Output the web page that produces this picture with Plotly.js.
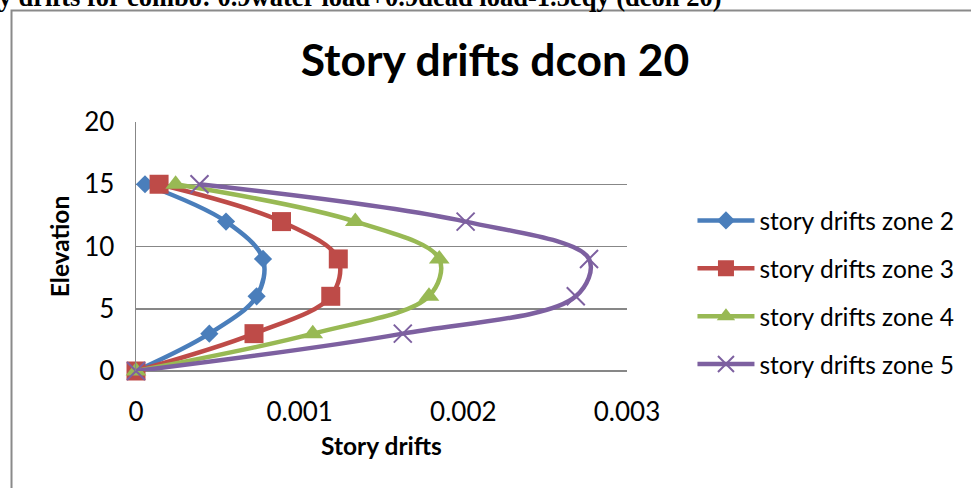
<!DOCTYPE html>
<html>
<head>
<meta charset="utf-8">
<script src="https://cdn.plot.ly/plotly-3.0.1.min.js"></script>
<style>
html,body{margin:0;padding:0;background:#fff;}
#chart{width:971px;height:488px;}
</style>
</head>
<body>
<div id="chart"></div>
<script>
// Elevation levels (shared)
const elevation = [0, 3, 6, 9, 12, 15];
// Story drift values per zone
const zone2 = [0, 0.000448, 0.000737, 0.000776, 0.00055, 0.000055];
const zone3 = [0, 0.000721, 0.00119, 0.001236, 0.000889, 0.000141];
const zone4 = [0, 0.00108, 0.00179, 0.001853, 0.00134, 0.000242];
const zone5 = [0, 0.00163, 0.002687, 0.002768, 0.002014, 0.000388];
const seriesNames = ["story drifts zone 2", "story drifts zone 3", "story drifts zone 4", "story drifts zone 5"];
const xTickVals = [0, 0.001, 0.002, 0.003];
const xTickText = ["0", "0.001", "0.002", "0.003"];
const yTickVals = [0, 5, 10, 15, 20];

const colors = ["#4A7EBB", "#BE4B48", "#98B954", "#7D60A0"];
const symbols = ["diamond", "square", "triangle-up", "x-thin-open"];
const sizes = [14, 19, 18, 18];
const seriesData = [zone2, zone3, zone4, zone5];

const traces = seriesData.map((vals, i) => ({
  type: "scatter",
  mode: "lines+markers",
  x: vals,
  y: elevation,
  name: seriesNames[i],
  legendgroup: "g" + i,
  line: {color: colors[i], width: 4.5, shape: "spline", smoothing: 1},
  marker: {
    symbol: symbols[i],
    size: sizes[i],
    color: colors[i],
    line: {color: colors[i], width: i === 3 ? 2 : 0}
  },
  cliponaxis: false
}));

const L = 136, R = 631, T = 122, B = 371;
const W = R - L, H = B - T;
const px = v => (v - L) / W;
const py = v => (B - v) / H;

const layout = {
  width: 971,
  height: 488,
  margin: {l: L, r: 971 - R, t: T, b: 488 - B},
  paper_bgcolor: "#ffffff",
  plot_bgcolor: "#ffffff",
  font: {family: "Lato, 'Open Sans', sans-serif", color: "#000", size: 24},
  title: {
    text: "<b>Story drifts dcon 20</b>",
    font: {family: "Lato, sans-serif", size: 44.4, color: "#000"},
    xref: "container", yref: "container",
    x: 495 / 971, xanchor: "center",
    y: 1 - 60 / 488, yanchor: "middle"
  },
  xaxis: {
    range: [0, 0.003],
    tickvals: xTickVals,
    ticktext: xTickText,
    showgrid: false,
    zeroline: false,
    showline: false,
    ticks: "outside",
    ticklen: 18,
    tickcolor: "rgba(0,0,0,0)",
    tickfont: {size: 26},
    title: {text: "<b>Story drifts</b>", font: {size: 24.5}, standoff: 11},
    automargin: false
  },
  yaxis: {
    range: [0, 20],
    tickvals: yTickVals,
    showgrid: true,
    gridcolor: "#878787",
    gridwidth: 1.5,
    zeroline: true,
    zerolinecolor: "#878787",
    zerolinewidth: 1.5,
    showline: true,
    linecolor: "#878787",
    linewidth: 1.5,
    ticks: "outside",
    ticklen: 15,
    tickcolor: "rgba(0,0,0,0)",
    tickfont: {size: 26},
    title: {text: "<b>Elevation</b>", font: {size: 24.5}, standoff: 7},
    automargin: false
  },
  legend: {
    x: px(697), xanchor: "left",
    y: py(198), yanchor: "top",
    font: {size: 24.5, color: "#000"},
    tracegroupgap: 13,
    itemwidth: 57,
    bgcolor: "rgba(0,0,0,0)"
  },
  shapes: [{
    type: "rect", xref: "paper", yref: "paper",
    x0: px(10.5), x1: px(990), y0: py(510), y1: py(10.5),
    line: {color: "#8a8a8a", width: 2},
    fillcolor: "rgba(0,0,0,0)",
    layer: "below"
  }],
  annotations: [{
    text: "<b>Story drifts for combo: 0.9water load+0.9dead load-1.5eqy (dcon 20)</b>",
    xref: "paper", yref: "paper",
    x: px(729), xanchor: "right",
    y: py(-3), yanchor: "middle",
    showarrow: false,
    font: {family: "'Liberation Serif', 'Times New Roman', serif", size: 26.5, color: "#000"}
  }]
};

Plotly.newPlot("chart", traces, layout, {displayModeBar: false, staticPlot: true});
</script>
</body>
</html>
